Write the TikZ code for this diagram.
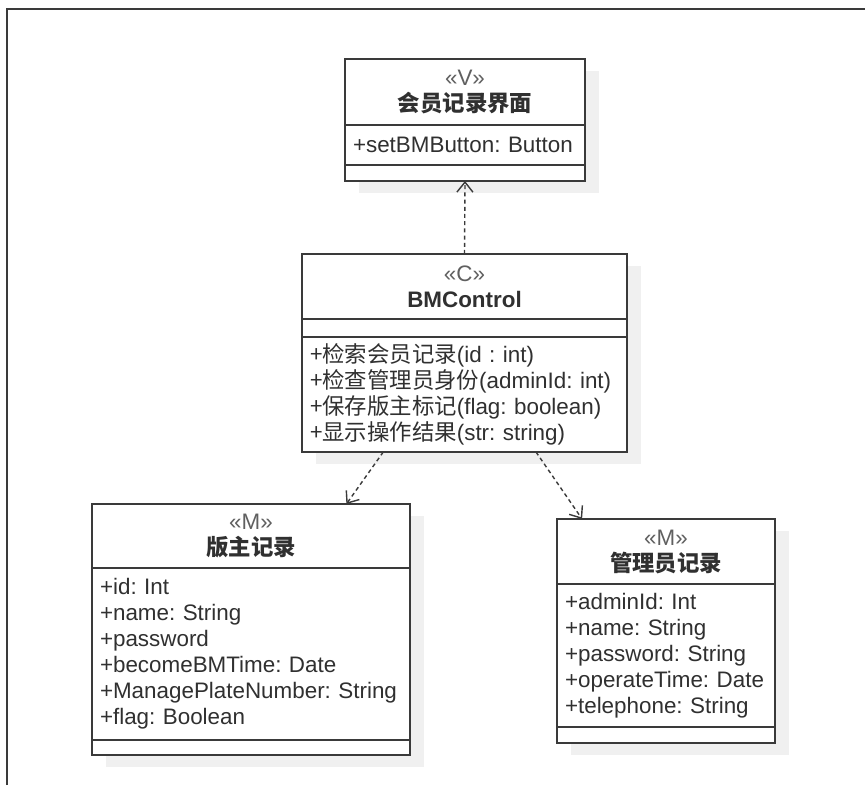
\documentclass[tikz,border=0pt]{standalone}
\usepackage{fontspec}
\setmainfont{Liberation Sans}
\newfontfamily\cjk{Noto Sans CJK SC}
\usetikzlibrary{positioning,calc,arrows.meta,backgrounds}
\frenchspacing
\hyphenpenalty=10000
\exhyphenpenalty=10000

\definecolor{umlline}{HTML}{3A3A3A}
\definecolor{umltext}{HTML}{303030}
\definecolor{stereogray}{HTML}{606060}
\definecolor{shadowgray}{HTML}{F0F0F0}

\tikzset{
	classbox/.style={draw=umlline, line width=0.9pt, fill=white, outer sep=0pt,
		inner xsep=4pt, inner ysep=2pt, text=umltext,
		font=\fontsize{11.2}{13}\selectfont},
	classhead/.style={classbox, align=center},
	classpart/.style={classbox, align=left},
	dep/.style={draw=umlline, line width=0.7pt, dash pattern=on 2pt off 1.6pt,
		-{Straight Barb[length=5pt,width=8pt]}},
}

\begin{document}
\begin{tikzpicture}[x=0.5pt, y=-0.5pt]
	\useasboundingbox (0,0) rectangle (865,785);

	% frame
	\draw[umlline, line width=1pt] (7,785) -- (7,9) -- (865,9);

	% view
	\node[classhead, text width=112pt, minimum height=33pt, anchor=north] (v) at (465,59)
		{{\color{stereogray}«V»}\\{\cjk\bfseries 会员记录界面}};
	\node[classpart, text width=112pt, minimum height=20pt, below=0pt of v] (vattr)
		{+setBMButton: Button};
	\node[classpart, text width=112pt, minimum height=8pt, below=0pt of vattr] (vops) {};

	% control
	\node[classhead, text width=154.5pt, minimum height=32.5pt, anchor=north] (c) at (464.5,254)
		{{\color{stereogray}«C»}\\\textbf{BMControl}};
	\node[classpart, text width=154.5pt, minimum height=9pt, below=0pt of c] (cattr) {};
	\node[classpart, text width=154.5pt, minimum height=57.5pt, below=0pt of cattr] (cops)
		{{\cjk +检索会员记录}(id : int)\\
		 {\cjk +检查管理员身份}(adminId: int)\\
		 {\cjk +保存版主标记}(flag: boolean)\\
		 {\cjk +显示操作结果}(str: string)};

	% models
	\node[classhead, text width=151pt, minimum height=32pt, anchor=north] (bm) at (251,504)
		{{\color{stereogray}«M»}\\{\cjk\bfseries 版主记录}};
	\node[classpart, text width=151pt, minimum height=86pt, below=0pt of bm] (bmattr)
		{+id: Int\\+name: String\\+password\\+becomeBMTime: Date\\
		 +ManagePlateNumber: String\\+flag: Boolean};
	\node[classpart, text width=151pt, minimum height=7.5pt, below=0pt of bmattr] (bmops) {};

	\node[classhead, text width=101pt, minimum height=32.5pt, anchor=north] (adm) at (666,519)
		{{\color{stereogray}«M»}\\{\cjk\bfseries 管理员记录}};
	\node[classpart, text width=101pt, minimum height=71.5pt, below=0pt of adm] (admattr)
		{+adminId: Int\\+name: String\\+password: String\\+operateTime: Date\\
		 +telephone: String};
	\node[classpart, text width=101pt, minimum height=8pt, below=0pt of admattr] (admops) {};

	% shadows
	\begin{scope}[on background layer]
		\fill[shadowgray] ($(v.north west)+(14,12)$) rectangle ($(vops.south east)+(14,12)$);
		\fill[shadowgray] ($(c.north west)+(14,12)$) rectangle ($(cops.south east)+(14,12)$);
		\fill[shadowgray] ($(bm.north west)+(14,12)$) rectangle ($(bmops.south east)+(14,12)$);
		\fill[shadowgray] ($(adm.north west)+(14,12)$) rectangle ($(admops.south east)+(14,12)$);
	\end{scope}

	% dependencies
	\draw[dep] (c.north) -- (vops.south);
	\draw[dep] ($(cops.south west)!0.25!(cops.south east)$) -- ($(bm.north west)!0.8!(bm.north east)$);
	\draw[dep] ($(cops.south west)!0.72!(cops.south east)$) -- ($(adm.north west)!0.115!(adm.north east)$);
\end{tikzpicture}
\end{document}
